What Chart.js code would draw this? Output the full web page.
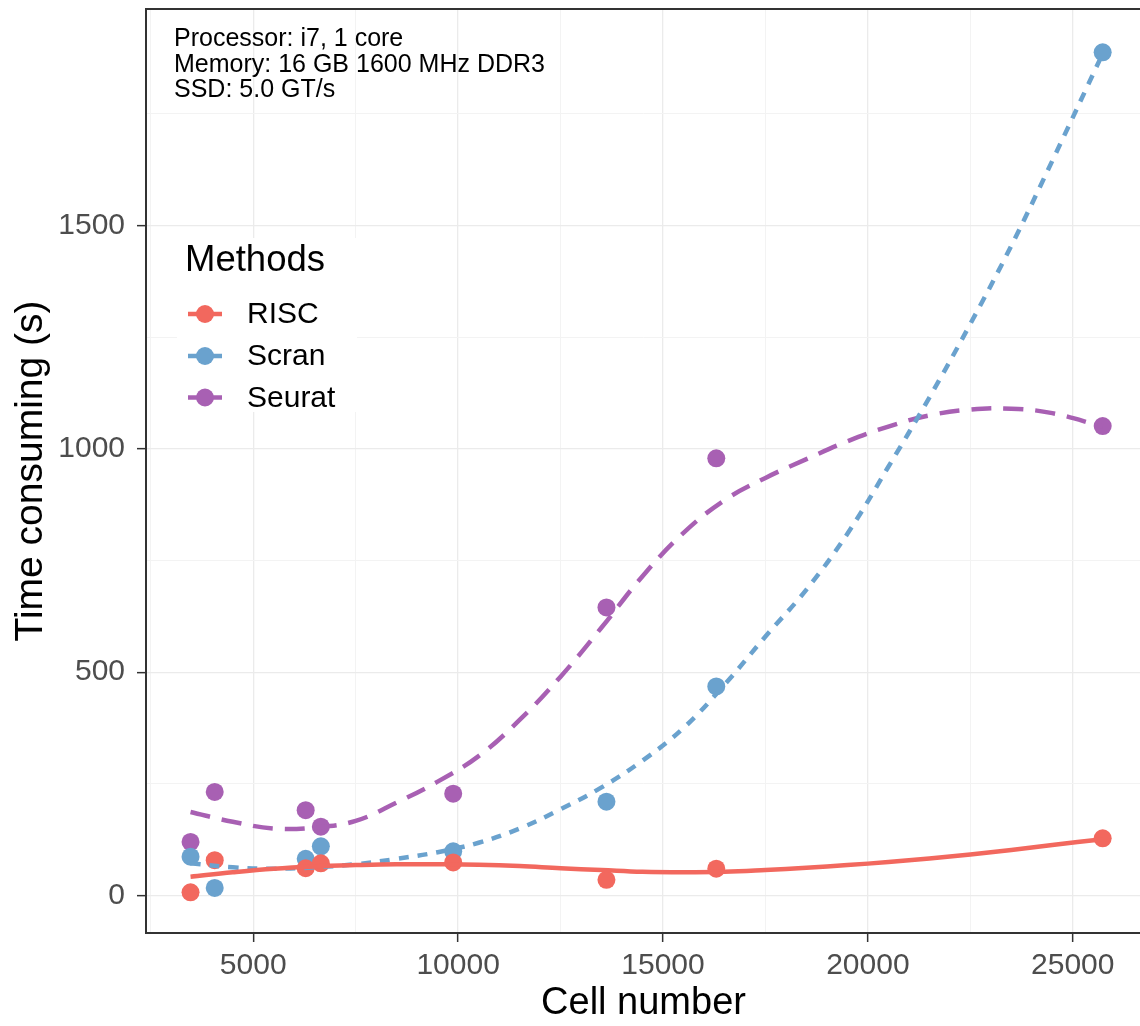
<!DOCTYPE html>
<html>
<head>
<meta charset="utf-8">
<script src="https://cdn.jsdelivr.net/npm/chart.js@4.4.1/dist/chart.umd.min.js"></script>
<style>
  html, body { margin: 0; padding: 0; background: #ffffff; overflow: hidden; }
  #c { display: block; }
</style>
</head>
<body>
<canvas id="c" width="1150" height="1026" style="width:1150px;height:1026px"></canvas>
<script>
// ---- data ----
const methods = ["RISC", "Scran", "Seurat"];
const methodColors = ["#F2685E", "#6AA2CE", "#A860B3"];
const cellNumbers = [3470, 4060, 6280, 6650, 9880, 13620, 16300, 25730];
const riscTime   = [7, 79, 61, 72, 74, 35, 60, 128];
const scranTime  = [87, 17, 82, 110, 99, 210, 468, 1888];
const seuratTime = [120, 232, 191, 154, 228, 645, 979, 1051];

// smoothed (loess) curves
const smoothX      = [3470, 4500, 5500, 6500, 7500, 8500, 9500, 10500, 11500, 12500, 13500, 14500, 15500, 16500, 17500, 18500, 19500, 20500, 21500, 22500, 23500, 24500, 25730];
const riscSmooth   = [42, 52, 60, 65, 68, 70, 70, 69, 66, 61, 57, 53, 52, 53, 57, 62, 68, 75, 83, 92, 102, 113, 126];
const scranSmooth  = [72, 63, 60, 63, 70, 82, 97, 118, 150, 193, 242, 302, 375, 472, 580, 685, 810, 960, 1115, 1280, 1455, 1645, 1885];
const seuratSmooth = [187, 165, 150, 152, 167, 208, 255, 312, 393, 490, 600, 715, 812, 885, 935, 977, 1017, 1050, 1075, 1088, 1090, 1080, 1050];

const xTicks = [2500, 5000, 7500, 10000, 12500, 15000, 17500, 20000, 22500, 25000];
const yTicks = [0, 250, 500, 750, 1000, 1250, 1500, 1750];
const annotationLines = ["Processor: i7, 1 core", "Memory: 16 GB 1600 MHz DDR3", "SSD: 5.0 GT/s"];
const xTitle = "Cell number";
const yTitle = "Time consuming (s)";
const legendTitle = "Methods";

const FONT = "'Liberation Sans', Arial, Helvetica, sans-serif";
const pointSets = [riscTime, scranTime, seuratTime];
const smoothSets = [riscSmooth, scranSmooth, seuratSmooth];
const dashes = [[], [10, 9], [20, 12]];

const datasets = [];
methods.forEach((m, i) => {
  datasets.push({
    type: "scatter",
    label: m,
    data: cellNumbers.map((x, k) => ({ x: x, y: pointSets[i][k] })),
    backgroundColor: methodColors[i],
    borderColor: methodColors[i],
    borderWidth: 0,
    pointRadius: 9,
    pointHoverRadius: 9,
    order: 1
  });
});
methods.forEach((m, i) => {
  datasets.push({
    type: "line",
    label: m + " fit",
    data: smoothX.map((x, k) => ({ x: x, y: smoothSets[i][k] })),
    borderColor: methodColors[i],
    backgroundColor: methodColors[i],
    borderWidth: 4.5,
    borderDash: dashes[i],
    pointRadius: 0,
    fill: false,
    tension: 0.4,
    order: 0
  });
});

const framePlugin = {
  id: "frame",
  afterDatasetsDraw(chart) {
    const { ctx, chartArea: a } = chart;
    ctx.save();
    // annotation text
    ctx.fillStyle = "#000000";
    ctx.font = "25px " + FONT;
    ctx.textBaseline = "alphabetic";
    ctx.textAlign = "left";
    const base = [46, 72, 97];
    annotationLines.forEach((t, i) => ctx.fillText(t, 174, base[i]));

    // legend
    ctx.fillStyle = "#ffffff";
    ctx.fillRect(177, 238, 180, 174);
    ctx.fillStyle = "#000000";
    ctx.font = "36.5px " + FONT;
    ctx.fillText(legendTitle, 185, 271);
    const ys = [314, 356, 397.5];
    ctx.font = "30px " + FONT;
    methods.forEach((m, i) => {
      ctx.strokeStyle = methodColors[i];
      ctx.lineWidth = 4.5;
      ctx.setLineDash([]);
      ctx.beginPath();
      ctx.moveTo(188, ys[i]);
      ctx.lineTo(222, ys[i]);
      ctx.stroke();
      ctx.fillStyle = methodColors[i];
      ctx.beginPath();
      ctx.arc(205, ys[i], 9, 0, Math.PI * 2);
      ctx.fill();
      ctx.fillStyle = "#000000";
      ctx.textBaseline = "middle";
      ctx.fillText(m, 247, ys[i] + 1);
    });

    // panel border
    ctx.strokeStyle = "#333333";
    ctx.lineWidth = 2;
    ctx.strokeRect(a.left, a.top, a.right - a.left, a.bottom - a.top);
    ctx.restore();
  }
};

new Chart(document.getElementById("c"), {
  data: { datasets: datasets },
  options: {
    responsive: false,
    animation: false,
    events: [],
    layout: { padding: { top: 6, right: 3, left: 0, bottom: 0 } },
    plugins: { legend: { display: false }, tooltip: { enabled: false } },
    scales: {
      x: {
        type: "linear",
        min: 2383,
        max: 26665,
        afterBuildTicks: (axis) => { axis.ticks = xTicks.map(v => ({ value: v })); },
        afterFit: (s) => { s.height = 93; s.paddingLeft = 0; s.paddingRight = 0; },
        ticks: {
          autoSkip: false,
          maxRotation: 0,
          padding: 6,
          color: "#4D4D4D",
          font: { family: FONT, size: 30 },
          callback: (v) => (v % 5000 === 0 ? String(v) : "")
        },
        grid: {
          color: (c) => (c.tick && c.tick.value % 5000 === 0 ? "#EBEBEB" : "#F3F3F3"),
          lineWidth: (c) => (c.tick && c.tick.value % 5000 === 0 ? 1.3 : 1),
          tickColor: (c) => (c.tick && c.tick.value % 5000 === 0 ? "#333333" : "rgba(0,0,0,0)"),
          tickLength: 9,
          tickWidth: 1.5,
          drawOnChartArea: true
        },
        border: { display: false },
        title: {
          display: true,
          text: xTitle,
          color: "#000000",
          font: { family: FONT, size: 38 },
          padding: { top: 0, bottom: 0 }
        }
      },
      y: {
        type: "linear",
        min: -84,
        max: 1985,
        afterBuildTicks: (axis) => { axis.ticks = yTicks.map(v => ({ value: v })); },
        afterFit: (s) => { s.width = 146; s.paddingTop = 0; s.paddingBottom = 0; },
        ticks: {
          autoSkip: false,
          padding: 12,
          color: "#4D4D4D",
          font: { family: FONT, size: 30 },
          callback: (v) => (v % 500 === 0 ? String(v) : "")
        },
        grid: {
          color: (c) => (c.tick && c.tick.value % 500 === 0 ? "#EBEBEB" : "#F3F3F3"),
          lineWidth: (c) => (c.tick && c.tick.value % 500 === 0 ? 1.3 : 1),
          tickColor: (c) => (c.tick && c.tick.value % 500 === 0 ? "#333333" : "rgba(0,0,0,0)"),
          tickLength: 9,
          tickWidth: 1.5
        },
        border: { display: false },
        title: {
          display: true,
          text: yTitle,
          color: "#000000",
          font: { family: FONT, size: 39 },
          padding: { top: 8, bottom: 0 }
        }
      }
    }
  },
  plugins: [framePlugin]
});
</script>
</body>
</html>
